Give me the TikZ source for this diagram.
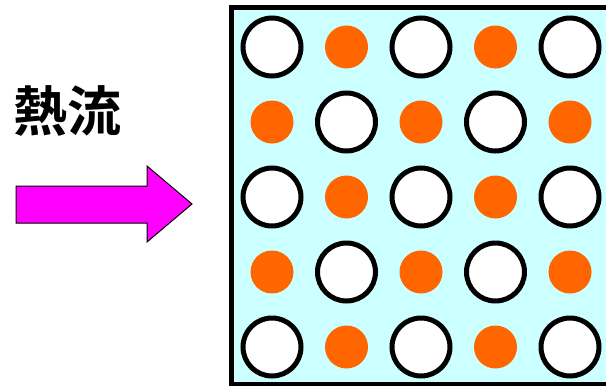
\documentclass[tikz,border=0pt]{standalone}
\usepackage{fontspec}
\newfontfamily\cjk{Noto Sans CJK JP}[BoldFont={Noto Sans CJK JP Bold}]
\definecolor{boxcyan}{HTML}{CCFFFF}
\definecolor{dotorange}{HTML}{FF6600}
\definecolor{arrowmag}{HTML}{FF00FF}
\tikzset{
  wcirc/.style={circle,draw=black,line width=5pt,fill=white,minimum size=58pt,inner sep=0pt},
  odot/.style={circle,fill=dotorange,minimum size=43pt,inner sep=0pt},
}
\begin{document}
\begin{tikzpicture}[x=1pt,y=-1pt]
\useasboundingbox (0,0) rectangle (606,386);
\clip (0,0) rectangle (606,386);
\node[font=\cjk\bfseries\fontsize{54}{54}\selectfont,inner sep=0pt] (title) at (67,111) {熱流};
\draw[fill=arrowmag,draw=black,line width=1pt] (16,186) -- (147,186) -- (147,166) -- (192,204) -- (147,242) -- (147,223) -- (16,223) -- cycle;
\draw[fill=boxcyan,draw=black,line width=5pt] (231.5,7.5) rectangle (640,384.5);
\foreach \r in {0,...,4}{
  \foreach \c in {0,...,4}{
    \pgfmathtruncatemacro{\s}{mod(\r+\c,2)}
    \ifnum\s=0
      \node[wcirc] (n\r\c) at ({272+74.5*\c},{47+75*\r}) {};
    \else
      \node[odot] (n\r\c) at ({272+74.5*\c},{47+75*\r}) {};
    \fi
  }
}
\end{tikzpicture}
\end{document}
